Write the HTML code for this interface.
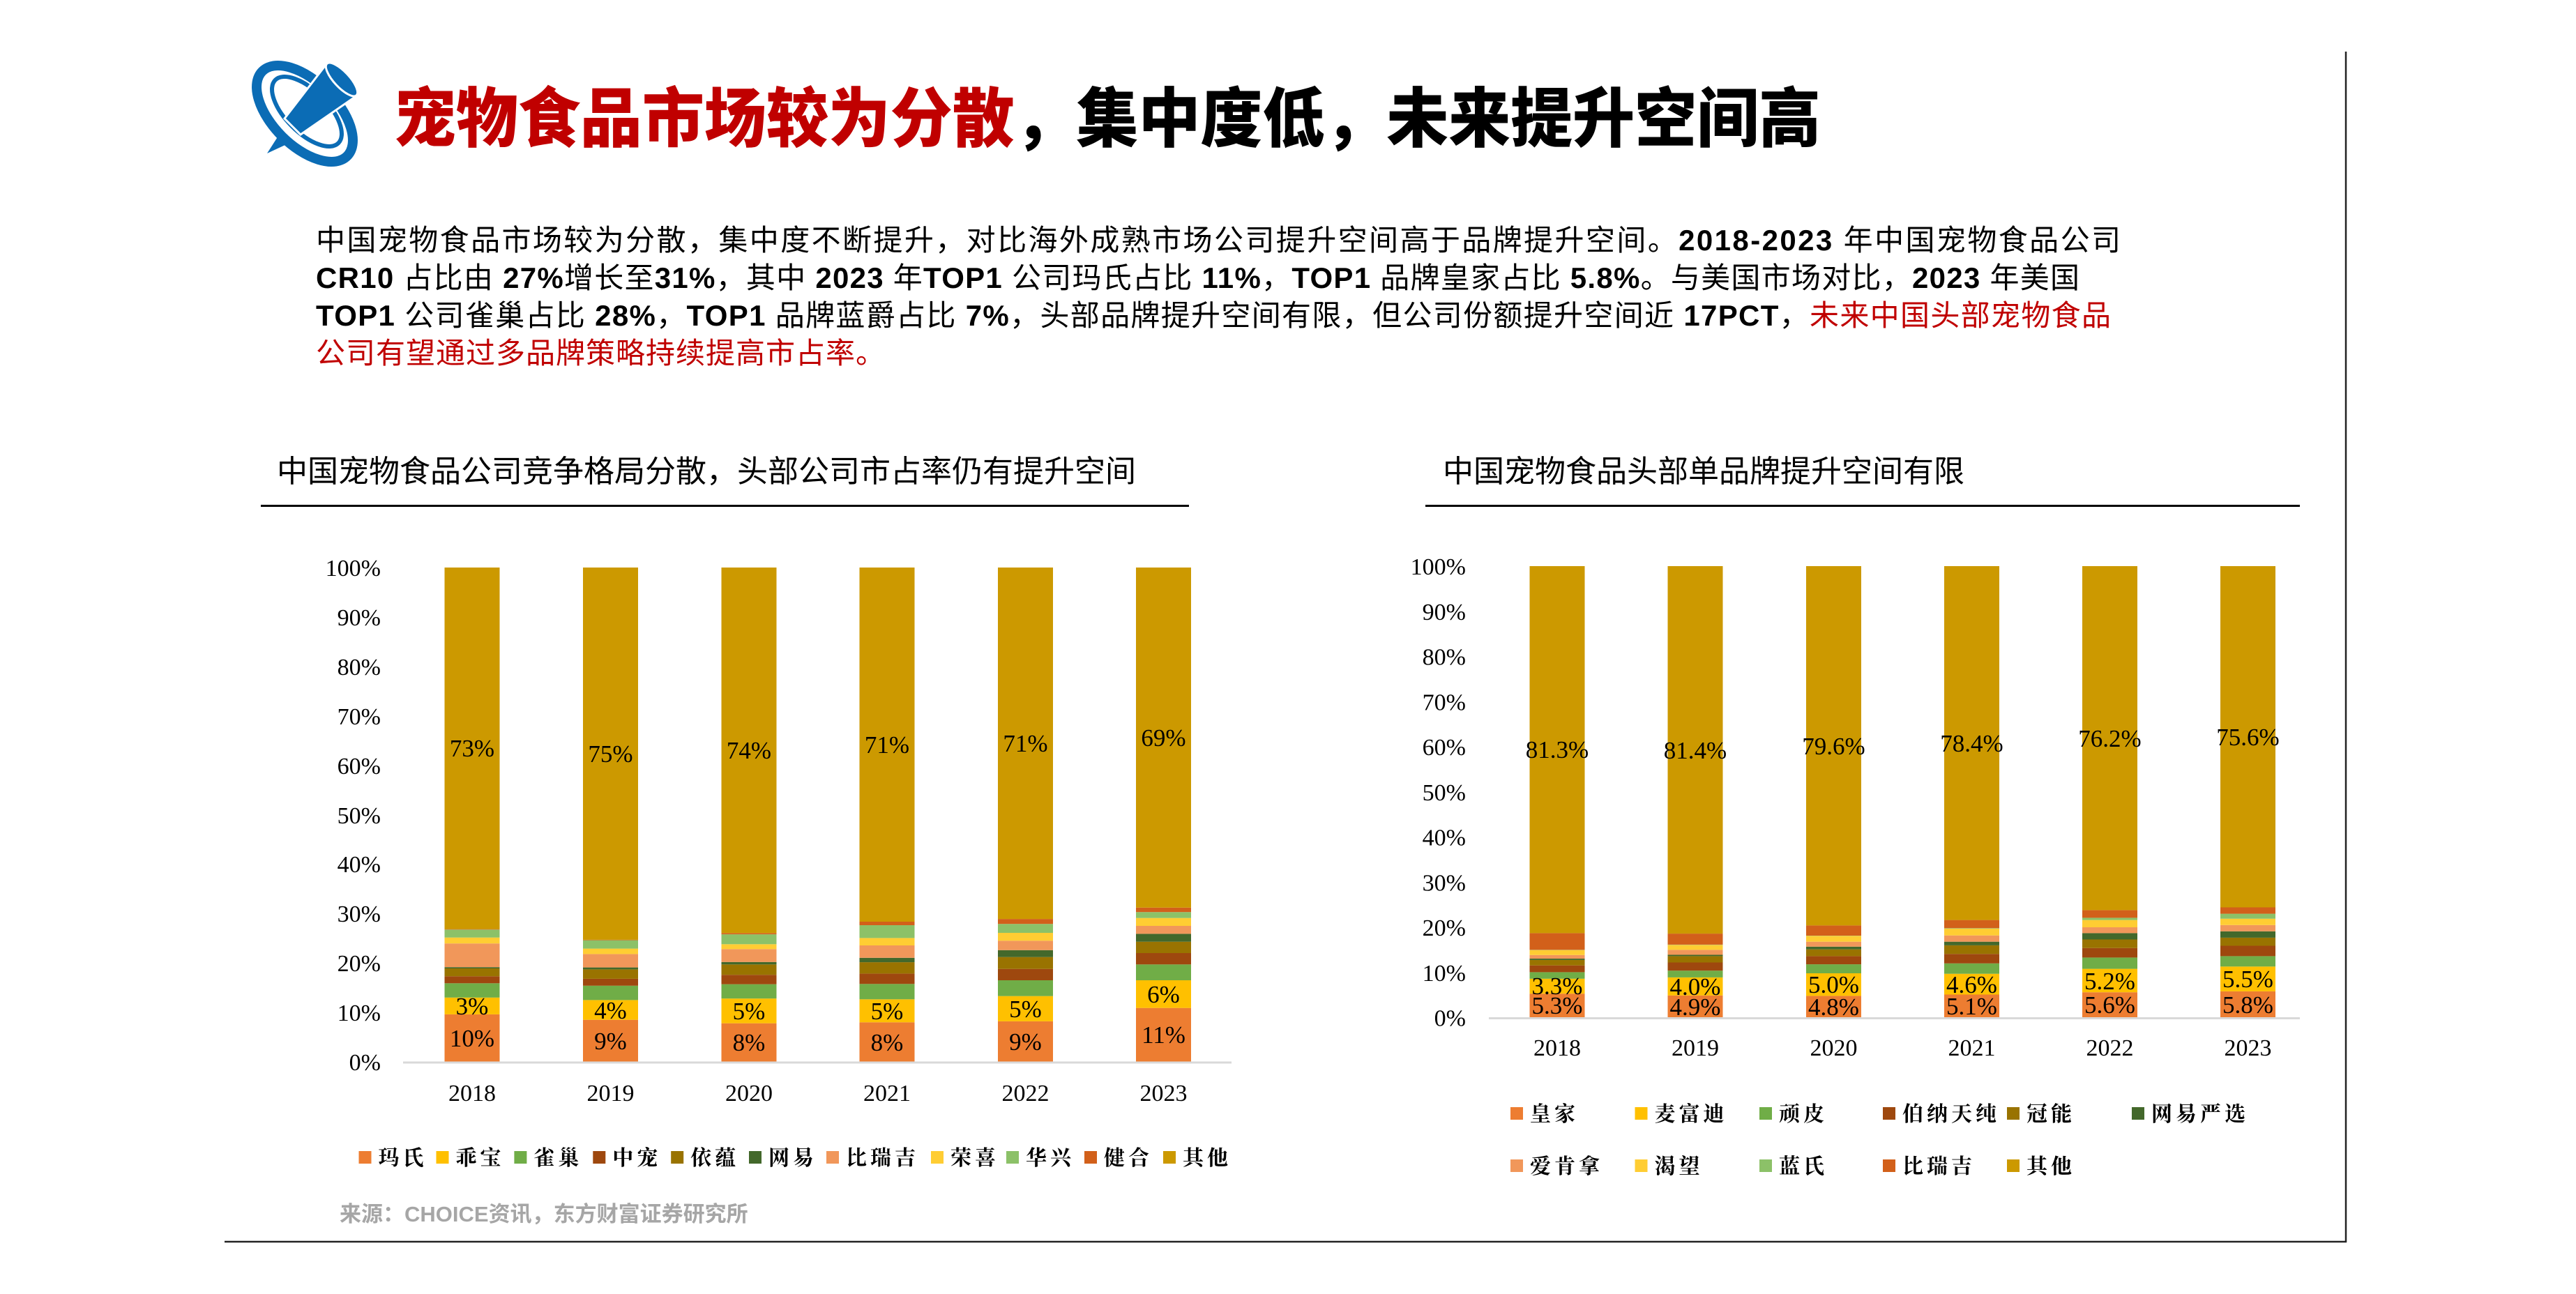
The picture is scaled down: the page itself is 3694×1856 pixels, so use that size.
<!DOCTYPE html>
<html><head><meta charset="utf-8"><style>
html,body{margin:0;padding:0;background:#fff;}
body{width:3694px;height:1856px;overflow:hidden;position:relative;}
svg{position:absolute;left:0;top:0;}
.sans{font-family:"Liberation Sans","Noto Sans CJK SC",sans-serif;}
.serif{font-family:"Liberation Serif","Noto Serif CJK SC",serif;}
.c1{fill:#ED7D31}.c2{fill:#FFC000}.c3{fill:#70AD47}.c4{fill:#9E480E}.c5{fill:#997300}.c6{fill:#43682B}.c7{fill:#F1975A}.c8{fill:#FFCD33}.c9{fill:#8CC168}.c10{fill:#D2601A}.c11{fill:#CC9900}
.tk{font-family:"Liberation Serif",serif;font-size:34px;fill:#000;}
.dl{font-family:"Liberation Serif",serif;font-size:35px;fill:#000;text-anchor:middle;}
.lg{font-family:"Liberation Serif","Noto Serif CJK SC",serif;font-size:30px;font-weight:bold;letter-spacing:5px;fill:#000;}
</style></head><body>
<svg width="3694" height="1856" viewBox="0 0 3694 1856" xmlns="http://www.w3.org/2000/svg">
<!-- logo -->
<g fill="none">
<ellipse cx="437" cy="163" rx="86" ry="46" transform="rotate(45 437 163)" stroke="#0B6CB5" stroke-width="14"/>
<ellipse cx="440" cy="160" rx="64" ry="30" transform="rotate(45 440 160)" stroke="#0B6CB5" stroke-width="6"/>
</g>
<polygon points="383,220 399,195 411,207" fill="#0B6CB5"/>
<polygon points="408,170 468,92 512,137 431,193" fill="#0B6CB5" stroke="#fff" stroke-width="3"/>
<ellipse cx="490" cy="114" rx="31" ry="11" transform="rotate(47 490 114)" fill="#0B6CB5" stroke="#fff" stroke-width="3"/>
<!-- title -->
<text x="565" y="203" class="sans" style="font-size:93px;font-weight:900;" textLength="2046" lengthAdjust="spacingAndGlyphs"><tspan fill="#C00000">宠物食品市场较为分散</tspan><tspan fill="#000">，集中度低，未来提升空间高</tspan></text>
<!-- paragraph -->
<g class="sans" style="font-size:42px;white-space:pre;" fill="#000">
<text x="453" y="359" textLength="2588" lengthAdjust="spacing">中国宠物食品市场较为分散，集中度不断提升，对比海外成熟市场公司提升空间高于品牌提升空间。<tspan font-weight="bold">2018-2023</tspan> 年中国宠物食品公司</text>
<text x="453" y="413" textLength="2529" lengthAdjust="spacing"><tspan font-weight="bold">CR10</tspan> 占比由 <tspan font-weight="bold">27%</tspan>增长至<tspan font-weight="bold">31%</tspan>，其中 <tspan font-weight="bold">2023</tspan> 年<tspan font-weight="bold">TOP1</tspan> 公司玛氏占比 <tspan font-weight="bold">11%</tspan>，<tspan font-weight="bold">TOP1</tspan> 品牌皇家占比 <tspan font-weight="bold">5.8%</tspan>。与美国市场对比，<tspan font-weight="bold">2023</tspan> 年美国</text>
<text x="453" y="467" textLength="2574" lengthAdjust="spacing"><tspan font-weight="bold">TOP1</tspan> 公司雀巢占比 <tspan font-weight="bold">28%</tspan>，<tspan font-weight="bold">TOP1</tspan> 品牌蓝爵占比 <tspan font-weight="bold">7%</tspan>，头部品牌提升空间有限，但公司份额提升空间近 <tspan font-weight="bold">17PCT</tspan>，<tspan fill="#C00000">未来中国头部宠物食品</tspan></text>
<text x="453" y="521" textLength="816" lengthAdjust="spacing" fill="#C00000">公司有望通过多品牌策略持续提高市占率。</text>
</g>
<!-- subtitles -->
<text x="397" y="691" class="sans" style="font-size:44px" fill="#000">中国宠物食品公司竞争格局分散，头部公司市占率仍有提升空间</text>
<line x1="374" y1="725.5" x2="1705" y2="725.5" stroke="#000" stroke-width="3"/>
<text x="2069" y="691" class="sans" style="font-size:44px" fill="#000">中国宠物食品头部单品牌提升空间有限</text>
<line x1="2044" y1="725.5" x2="3298" y2="725.5" stroke="#000" stroke-width="3"/>

<!-- LEFT CHART -->
<g text-anchor="end" class="tk">
<text x="546" y="1535" class="tk">0%</text>
<text x="546" y="1464" class="tk">10%</text>
<text x="546" y="1393" class="tk">20%</text>
<text x="546" y="1322" class="tk">30%</text>
<text x="546" y="1251" class="tk">40%</text>
<text x="546" y="1181" class="tk">50%</text>
<text x="546" y="1110" class="tk">60%</text>
<text x="546" y="1039" class="tk">70%</text>
<text x="546" y="968" class="tk">80%</text>
<text x="546" y="897" class="tk">90%</text>
<text x="546" y="826" class="tk">100%</text>
</g>
<!-- 2018 -->
<g transform="translate(637.5,0)">
<rect class="c1" x="0" width="79" y="1454.9" height="68.1"/>
<rect class="c2" x="0" width="79" y="1430.8" height="24.1"/>
<rect class="c3" x="0" width="79" y="1410.3" height="20.5"/>
<rect class="c4" x="0" width="79" y="1400.3" height="10"/>
<rect class="c5" x="0" width="79" y="1389.0" height="11.3"/>
<rect class="c6" x="0" width="79" y="1387.2" height="1.8"/>
<rect class="c7" x="0" width="79" y="1353.2" height="34"/>
<rect class="c8" x="0" width="79" y="1344.7" height="8.5"/>
<rect class="c9" x="0" width="79" y="1333.3" height="11.4"/>
<rect class="c10" x="0" width="79" y="1332.6" height="0.7"/>
<rect class="c11" x="0" width="79" y="814" height="518.6"/>
</g>
<!-- 2019 -->
<g transform="translate(836,0)">
<rect class="c1" x="0" width="79" y="1462.7" height="60.3"/>
<rect class="c2" x="0" width="79" y="1434.4" height="28.3"/>
<rect class="c3" x="0" width="79" y="1413.8" height="20.6"/>
<rect class="c4" x="0" width="79" y="1403.9" height="9.9"/>
<rect class="c5" x="0" width="79" y="1390.4" height="13.5"/>
<rect class="c6" x="0" width="79" y="1387.6" height="2.8"/>
<rect class="c7" x="0" width="79" y="1368.4" height="19.2"/>
<rect class="c8" x="0" width="79" y="1360.6" height="7.8"/>
<rect class="c9" x="0" width="79" y="1348.6" height="12"/>
<rect class="c10" x="0" width="79" y="1347.9" height="0.7"/>
<rect class="c11" x="0" width="79" y="814" height="533.9"/>
</g>
<!-- 2020 -->
<g transform="translate(1034.5,0)">
<rect class="c1" x="0" width="79" y="1467.7" height="55.3"/>
<rect class="c2" x="0" width="79" y="1432.2" height="35.5"/>
<rect class="c3" x="0" width="79" y="1411.7" height="20.5"/>
<rect class="c4" x="0" width="79" y="1398.2" height="13.5"/>
<rect class="c5" x="0" width="79" y="1383.3" height="14.9"/>
<rect class="c6" x="0" width="79" y="1379.8" height="3.5"/>
<rect class="c7" x="0" width="79" y="1361.3" height="18.5"/>
<rect class="c8" x="0" width="79" y="1354.3" height="7"/>
<rect class="c9" x="0" width="79" y="1340.1" height="14.2"/>
<rect class="c10" x="0" width="79" y="1338.3" height="1.8"/>
<rect class="c11" x="0" width="79" y="814" height="524.3"/>
</g>
<!-- 2021 -->
<g transform="translate(1232.5,0)">
<rect class="c1" x="0" width="79" y="1466.3" height="56.7"/>
<rect class="c2" x="0" width="79" y="1433.3" height="33"/>
<rect class="c3" x="0" width="79" y="1411.3" height="22"/>
<rect class="c4" x="0" width="79" y="1396.4" height="14.9"/>
<rect class="c5" x="0" width="79" y="1380.1" height="16.3"/>
<rect class="c6" x="0" width="79" y="1373.8" height="6.3"/>
<rect class="c7" x="0" width="79" y="1356.0" height="17.8"/>
<rect class="c8" x="0" width="79" y="1345.4" height="10.6"/>
<rect class="c9" x="0" width="79" y="1327.0" height="18.4"/>
<rect class="c10" x="0" width="79" y="1322.0" height="5"/>
<rect class="c11" x="0" width="79" y="814" height="508"/>
</g>
<!-- 2022 -->
<g transform="translate(1431,0)">
<rect class="c1" x="0" width="79" y="1464.9" height="58.1"/>
<rect class="c2" x="0" width="79" y="1428.7" height="36.2"/>
<rect class="c3" x="0" width="79" y="1406.0" height="22.7"/>
<rect class="c4" x="0" width="79" y="1389.7" height="16.3"/>
<rect class="c5" x="0" width="79" y="1372.7" height="17"/>
<rect class="c6" x="0" width="79" y="1362.8" height="9.9"/>
<rect class="c7" x="0" width="79" y="1349.3" height="13.5"/>
<rect class="c8" x="0" width="79" y="1338.0" height="11.3"/>
<rect class="c9" x="0" width="79" y="1325.2" height="12.8"/>
<rect class="c10" x="0" width="79" y="1318.1" height="7.1"/>
<rect class="c11" x="0" width="79" y="814" height="504.1"/>
</g>
<!-- 2023 -->
<g transform="translate(1629,0)">
<rect class="c1" x="0" width="79" y="1445.7" height="77.3"/>
<rect class="c2" x="0" width="79" y="1406.0" height="39.7"/>
<rect class="c3" x="0" width="79" y="1383.3" height="22.7"/>
<rect class="c4" x="0" width="79" y="1367.0" height="16.3"/>
<rect class="c5" x="0" width="79" y="1350.7" height="16.3"/>
<rect class="c6" x="0" width="79" y="1339.4" height="11.3"/>
<rect class="c7" x="0" width="79" y="1328.0" height="11.4"/>
<rect class="c8" x="0" width="79" y="1316.7" height="11.3"/>
<rect class="c9" x="0" width="79" y="1308.2" height="8.5"/>
<rect class="c10" x="0" width="79" y="1301.8" height="6.4"/>
<rect class="c11" x="0" width="79" y="814" height="487.8"/>
</g>
<line x1="578" y1="1524" x2="1766" y2="1524" stroke="#D9D9D9" stroke-width="3"/>
<!-- left data labels -->
<text class="dl" x="677" y="1501">10%</text><text class="dl" x="677" y="1455">3%</text><text class="dl" x="677" y="1085">73%</text>
<text class="dl" x="875.5" y="1505">9%</text><text class="dl" x="875.5" y="1461">4%</text><text class="dl" x="875.5" y="1093">75%</text>
<text class="dl" x="1074" y="1507">8%</text><text class="dl" x="1074" y="1462">5%</text><text class="dl" x="1074" y="1088">74%</text>
<text class="dl" x="1272" y="1507">8%</text><text class="dl" x="1272" y="1462">5%</text><text class="dl" x="1272" y="1080">71%</text>
<text class="dl" x="1470.5" y="1506">9%</text><text class="dl" x="1470.5" y="1459">5%</text><text class="dl" x="1470.5" y="1078">71%</text>
<text class="dl" x="1668.5" y="1496">11%</text><text class="dl" x="1668.5" y="1438">6%</text><text class="dl" x="1668.5" y="1070">69%</text>
<!-- left x labels -->
<g class="tk" text-anchor="middle">
<text x="677" y="1579" text-anchor="middle">2018</text>
<text x="875.5" y="1579" text-anchor="middle">2019</text>
<text x="1074" y="1579" text-anchor="middle">2020</text>
<text x="1272" y="1579" text-anchor="middle">2021</text>
<text x="1470.5" y="1579" text-anchor="middle">2022</text>
<text x="1668.5" y="1579" text-anchor="middle">2023</text>
</g>
<!-- left legend -->
<rect class="c1" x="514.5" y="1651" width="18" height="18"/><text class="lg" x="542.5" y="1671">玛氏</text>
<rect class="c2" x="625.5" y="1651" width="18" height="18"/><text class="lg" x="653.5" y="1671">乖宝</text>
<rect class="c3" x="737.4" y="1651" width="18" height="18"/><text class="lg" x="765.4" y="1671">雀巢</text>
<rect class="c4" x="850.3" y="1651" width="18" height="18"/><text class="lg" x="878.3" y="1671">中宠</text>
<rect class="c5" x="962.2" y="1651" width="18" height="18"/><text class="lg" x="990.2" y="1671">依蕴</text>
<rect class="c6" x="1074" y="1651" width="18" height="18"/><text class="lg" x="1102" y="1671">网易</text>
<rect class="c7" x="1185" y="1651" width="18" height="18"/><text class="lg" x="1213" y="1671">比瑞吉</text>
<rect class="c8" x="1335" y="1651" width="18" height="18"/><text class="lg" x="1363" y="1671">荣喜</text>
<rect class="c9" x="1443" y="1651" width="18" height="18"/><text class="lg" x="1471" y="1671">华兴</text>
<rect class="c10" x="1555" y="1651" width="18" height="18"/><text class="lg" x="1583" y="1671">健合</text>
<rect class="c11" x="1668" y="1651" width="18" height="18"/><text class="lg" x="1696" y="1671">其他</text>
<!-- source -->
<text x="487" y="1752" class="sans" style="font-size:31px;font-weight:bold" fill="#A6A6A6">来源：CHOICE资讯，东方财富证券研究所</text>

<!-- RIGHT CHART -->
<g text-anchor="end">
<text x="2102" y="1471.5" class="tk">0%</text>
<text x="2102" y="1406.8" class="tk">10%</text>
<text x="2102" y="1342" class="tk">20%</text>
<text x="2102" y="1277.3" class="tk">30%</text>
<text x="2102" y="1212.5" class="tk">40%</text>
<text x="2102" y="1147.8" class="tk">50%</text>
<text x="2102" y="1083" class="tk">60%</text>
<text x="2102" y="1018.3" class="tk">70%</text>
<text x="2102" y="953.5" class="tk">80%</text>
<text x="2102" y="888.8" class="tk">90%</text>
<text x="2102" y="824" class="tk">100%</text>
</g>
<!-- 2018 -->
<g transform="translate(2193.5,0)">
<rect class="c1" x="0" width="79" y="1425.2" height="34.3"/>
<rect class="c2" x="0" width="79" y="1403.8" height="21.4"/>
<rect class="c3" x="0" width="79" y="1394.4" height="9.4"/>
<rect class="c4" x="0" width="79" y="1384.7" height="9.7"/>
<rect class="c5" x="0" width="79" y="1376.9" height="7.8"/>
<rect class="c6" x="0" width="79" y="1375.0" height="1.9"/>
<rect class="c7" x="0" width="79" y="1369.8" height="5.2"/>
<rect class="c8" x="0" width="79" y="1362.7" height="7.1"/>
<rect class="c9" x="0" width="79" y="1362.4" height="0.3"/>
<rect class="c10" x="0" width="79" y="1338.4" height="24"/>
<rect class="c11" x="0" width="79" y="812" height="526.4"/>
</g>
<!-- 2019 -->
<g transform="translate(2391.5,0)">
<rect class="c1" x="0" width="79" y="1427.8" height="31.7"/>
<rect class="c2" x="0" width="79" y="1401.9" height="25.9"/>
<rect class="c3" x="0" width="79" y="1392.2" height="9.7"/>
<rect class="c4" x="0" width="79" y="1380.5" height="11.7"/>
<rect class="c5" x="0" width="79" y="1371.4" height="9.1"/>
<rect class="c6" x="0" width="79" y="1369.5" height="1.9"/>
<rect class="c7" x="0" width="79" y="1362.4" height="7.1"/>
<rect class="c8" x="0" width="79" y="1355.3" height="7.1"/>
<rect class="c9" x="0" width="79" y="1354.9" height="0.4"/>
<rect class="c10" x="0" width="79" y="1339.1" height="15.8"/>
<rect class="c11" x="0" width="79" y="812" height="527.1"/>
</g>
<!-- 2020 -->
<g transform="translate(2590,0)">
<rect class="c1" x="0" width="79" y="1428.4" height="31.1"/>
<rect class="c2" x="0" width="79" y="1396.0" height="32.4"/>
<rect class="c3" x="0" width="79" y="1383.1" height="12.9"/>
<rect class="c4" x="0" width="79" y="1371.4" height="11.7"/>
<rect class="c5" x="0" width="79" y="1361.7" height="9.7"/>
<rect class="c6" x="0" width="79" y="1357.8" height="3.9"/>
<rect class="c7" x="0" width="79" y="1350.7" height="7.1"/>
<rect class="c8" x="0" width="79" y="1342.3" height="8.4"/>
<rect class="c9" x="0" width="79" y="1342.0" height="0.3"/>
<rect class="c10" x="0" width="79" y="1327.4" height="14.6"/>
<rect class="c11" x="0" width="79" y="812" height="515.4"/>
</g>
<!-- 2021 -->
<g transform="translate(2788,0)">
<rect class="c1" x="0" width="79" y="1426.5" height="33"/>
<rect class="c2" x="0" width="79" y="1396.7" height="29.8"/>
<rect class="c3" x="0" width="79" y="1381.8" height="14.9"/>
<rect class="c4" x="0" width="79" y="1368.2" height="13.6"/>
<rect class="c5" x="0" width="79" y="1355.9" height="12.3"/>
<rect class="c6" x="0" width="79" y="1350.7" height="5.2"/>
<rect class="c7" x="0" width="79" y="1341.7" height="9"/>
<rect class="c8" x="0" width="79" y="1331.9" height="9.8"/>
<rect class="c9" x="0" width="79" y="1331.3" height="0.6"/>
<rect class="c10" x="0" width="79" y="1319.6" height="11.7"/>
<rect class="c11" x="0" width="79" y="812" height="507.6"/>
</g>
<!-- 2022 -->
<g transform="translate(2986,0)">
<rect class="c1" x="0" width="79" y="1423.2" height="36.3"/>
<rect class="c2" x="0" width="79" y="1389.6" height="33.6"/>
<rect class="c3" x="0" width="79" y="1373.4" height="16.2"/>
<rect class="c4" x="0" width="79" y="1359.8" height="13.6"/>
<rect class="c5" x="0" width="79" y="1347.5" height="12.3"/>
<rect class="c6" x="0" width="79" y="1338.4" height="9.1"/>
<rect class="c7" x="0" width="79" y="1330.0" height="8.4"/>
<rect class="c8" x="0" width="79" y="1319.6" height="10.4"/>
<rect class="c9" x="0" width="79" y="1316.4" height="3.2"/>
<rect class="c10" x="0" width="79" y="1305.4" height="11"/>
<rect class="c11" x="0" width="79" y="812" height="493.4"/>
</g>
<!-- 2023 -->
<g transform="translate(3184,0)">
<rect class="c1" x="0" width="79" y="1421.9" height="37.6"/>
<rect class="c2" x="0" width="79" y="1386.3" height="35.6"/>
<rect class="c3" x="0" width="79" y="1371.4" height="14.9"/>
<rect class="c4" x="0" width="79" y="1356.5" height="14.9"/>
<rect class="c5" x="0" width="79" y="1344.9" height="11.6"/>
<rect class="c6" x="0" width="79" y="1335.8" height="9.1"/>
<rect class="c7" x="0" width="79" y="1326.8" height="9"/>
<rect class="c8" x="0" width="79" y="1317.7" height="9.1"/>
<rect class="c9" x="0" width="79" y="1310.6" height="7.1"/>
<rect class="c10" x="0" width="79" y="1301.5" height="9.1"/>
<rect class="c11" x="0" width="79" y="812" height="489.5"/>
</g>
<line x1="2135" y1="1460.5" x2="3298" y2="1460.5" stroke="#D9D9D9" stroke-width="3"/>
<!-- right data labels -->
<text class="dl" x="2233" y="1454">5.3%</text><text class="dl" x="2233" y="1426">3.3%</text><text class="dl" x="2233" y="1087">81.3%</text>
<text class="dl" x="2431" y="1456">4.9%</text><text class="dl" x="2431" y="1427">4.0%</text><text class="dl" x="2431" y="1088">81.4%</text>
<text class="dl" x="2629.5" y="1456">4.8%</text><text class="dl" x="2629.5" y="1424">5.0%</text><text class="dl" x="2629.5" y="1082">79.6%</text>
<text class="dl" x="2827.5" y="1455">5.1%</text><text class="dl" x="2827.5" y="1424">4.6%</text><text class="dl" x="2827.5" y="1078">78.4%</text>
<text class="dl" x="3025.5" y="1453">5.6%</text><text class="dl" x="3025.5" y="1419">5.2%</text><text class="dl" x="3025.5" y="1071">76.2%</text>
<text class="dl" x="3223.5" y="1453">5.8%</text><text class="dl" x="3223.5" y="1416">5.5%</text><text class="dl" x="3223.5" y="1069">75.6%</text>
<!-- right x labels -->
<text class="tk" x="2233" y="1514" text-anchor="middle">2018</text>
<text class="tk" x="2431" y="1514" text-anchor="middle">2019</text>
<text class="tk" x="2629.5" y="1514" text-anchor="middle">2020</text>
<text class="tk" x="2827.5" y="1514" text-anchor="middle">2021</text>
<text class="tk" x="3025.5" y="1514" text-anchor="middle">2022</text>
<text class="tk" x="3223.5" y="1514" text-anchor="middle">2023</text>
<!-- right legend -->
<rect class="c1" x="2166" y="1588" width="18" height="18"/><text class="lg" x="2194" y="1608">皇家</text>
<rect class="c2" x="2344.5" y="1588" width="18" height="18"/><text class="lg" x="2372.5" y="1608">麦富迪</text>
<rect class="c3" x="2523" y="1588" width="18" height="18"/><text class="lg" x="2551" y="1608">顽皮</text>
<rect class="c4" x="2700" y="1588" width="18" height="18"/><text class="lg" x="2728" y="1608">伯纳天纯</text>
<rect class="c5" x="2878" y="1588" width="18" height="18"/><text class="lg" x="2906" y="1608">冠能</text>
<rect class="c6" x="3057" y="1588" width="18" height="18"/><text class="lg" x="3085" y="1608">网易严选</text>
<rect class="c7" x="2166" y="1663" width="18" height="18"/><text class="lg" x="2194" y="1683">爱肯拿</text>
<rect class="c8" x="2344.5" y="1663" width="18" height="18"/><text class="lg" x="2372.5" y="1683">渴望</text>
<rect class="c9" x="2523" y="1663" width="18" height="18"/><text class="lg" x="2551" y="1683">蓝氏</text>
<rect class="c10" x="2700" y="1663" width="18" height="18"/><text class="lg" x="2728" y="1683">比瑞吉</text>
<rect class="c11" x="2878" y="1663" width="18" height="18"/><text class="lg" x="2906" y="1683">其他</text>

<!-- frame lines -->
<line x1="3364" y1="74" x2="3364" y2="1782" stroke="#222" stroke-width="2.5"/>
<line x1="322" y1="1781" x2="3365" y2="1781" stroke="#222" stroke-width="2.5"/>
</svg>
</body></html>
